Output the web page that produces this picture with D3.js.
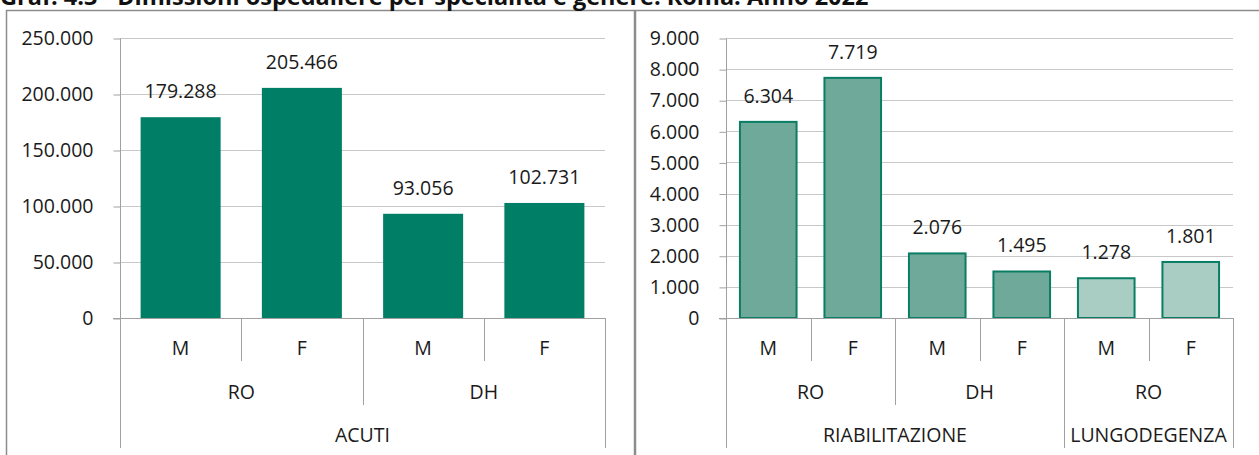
<!DOCTYPE html>
<html>
<head>
<meta charset="utf-8">
<script src="https://cdn.jsdelivr.net/npm/d3@7"></script>
<style>
  body { margin: 0; background: #fff; }
  svg { display: block; font-family: "Open Sans", sans-serif; }
  .lbl { fill: #1a1a1a; font-size: 19.5px; }
</style>
</head>
<body>
<div id="chart"></div>
<script>
// left panel: acuti
var acutiSpec = ["ACUTI", "ACUTI", "ACUTI", "ACUTI"];
var acutiRegime = ["RO", "RO", "DH", "DH"];
var acutiSex = ["M", "F", "M", "F"];
var acutiValues = [179288, 205466, 93056, 102731];
var acutiTicks = [0, 50000, 100000, 150000, 200000, 250000];

// right panel: riabilitazione + lungodegenza
var otherSpec = ["RIABILITAZIONE", "RIABILITAZIONE", "RIABILITAZIONE", "RIABILITAZIONE", "LUNGODEGENZA", "LUNGODEGENZA"];
var otherRegime = ["RO", "RO", "DH", "DH", "RO", "RO"];
var otherSex = ["M", "F", "M", "F", "M", "F"];
var otherValues = [6304, 7719, 2076, 1495, 1278, 1801];
var otherTicks = [0, 1000, 2000, 3000, 4000, 5000, 6000, 7000, 8000, 9000];

var title = "Graf. 4.3 - Dimissioni ospedaliere per specialità e genere. Roma. Anno 2022";

var it = d3.formatLocale({decimal: ",", thousands: ".", grouping: [3], currency: ["€", ""]});
var fmt = it.format(",d");

var W = 1259, H = 455;
var svg = d3.select("#chart").append("svg")
  .attr("width", W).attr("height", H);

// panel frames
svg.append("rect").attr("x", 6.5).attr("y", 10.5).attr("width", 628).attr("height", 460)
  .attr("fill", "none").attr("stroke", "#8c8c8c").attr("stroke-width", 1.5);
svg.append("rect").attr("x", 635.5).attr("y", 10.5).attr("width", 640).attr("height", 460)
  .attr("fill", "none").attr("stroke", "#8c8c8c").attr("stroke-width", 1.5);

// title, cut at the top as in the source
svg.append("text")
  .attr("x", 0).attr("y", 5)
  .attr("font-weight", "bold").attr("font-size", "23.5px").attr("fill", "#111")
  .text(title);

// runs of equal consecutive values -> [{name, start, end}]
var runs = function(arr) {
  var out = [];
  arr.forEach(function(v, i) {
    if (out.length && out[out.length - 1].name === v) {
      out[out.length - 1].end = i;
    } else {
      out.push({name: v, start: i, end: i});
    }
  });
  return out;
};

var drawPanel = function(o) {
  var n = o.values.length;
  var idx = d3.range(n);

  var x = d3.scaleBand().domain(idx).range(o.xr).paddingInner(o.pad).paddingOuter(o.pad / 2);
  var y = d3.scaleLinear().domain([0, o.ticks[o.ticks.length - 1]]).range([318, 38]);
  var step = x.step();
  var g = svg.append("g");

  // gridlines
  g.selectAll("line.grid")
    .data(o.ticks.slice(1))
    .enter().append("line")
    .attr("x1", o.xr[0]).attr("x2", o.xr[1])
    .attr("y1", function(d) { return Math.round(y(d)) + 0.5; })
    .attr("y2", function(d) { return Math.round(y(d)) + 0.5; })
    .attr("stroke", "#c8c8c8").attr("stroke-width", 1);

  // y axis
  var yAxis = d3.axisLeft(y).tickValues(o.ticks).tickFormat(fmt).tickSize(7).tickPadding(20);
  var ya = g.append("g")
    .attr("transform", "translate(" + (o.xr[0] + 0.5) + ",0.5)")
    .call(yAxis);
  ya.select(".domain").attr("stroke", "#a0a0a0").attr("d", "M0," + y(o.ticks[o.ticks.length - 1]) + "V" + y(0));
  ya.selectAll(".tick line").attr("stroke", "#a0a0a0");
  ya.selectAll(".tick text").attr("font-family", "Open Sans").attr("font-size", "19.5px").attr("fill", "#1a1a1a");

  // bars
  g.selectAll("rect.bar")
    .data(idx)
    .enter().append("rect")
    .attr("x", function(i) { return x(i); })
    .attr("width", x.bandwidth())
    .attr("y", function(i) { return y(o.values[i]); })
    .attr("height", function(i) { return y(0) - y(o.values[i]); })
    .attr("fill", function(i) { return o.fill(i); })
    .attr("stroke", o.stroke || "none")
    .attr("stroke-width", o.stroke ? 2 : 0);

  // value labels
  g.selectAll("text.val")
    .data(idx)
    .enter().append("text")
    .attr("class", "lbl")
    .attr("text-anchor", "middle")
    .attr("x", function(i) { return x(i) + x.bandwidth() / 2; })
    .attr("y", function(i) { return y(o.values[i]) - 26; })
    .attr("dy", "0.35em")
    .text(function(i) { return fmt(o.values[i]); });

  // x axis baseline
  g.append("line")
    .attr("x1", o.xr[0] - 7).attr("x2", o.xr[1])
    .attr("y1", y(0) + 0.5).attr("y2", y(0) + 0.5)
    .attr("stroke", "#a0a0a0");

  // multi-level category labels; keys carry the parent so groups never cross
  var levels = [
    {names: o.sex, keys: idx.map(String), ty: 348, ly: 361},
    {names: o.regime, keys: idx.map(function(i) { return o.spec[i] + "|" + o.regime[i]; }), ty: 392, ly: 405},
    {names: o.spec, keys: o.spec, ty: 435, ly: 448}
  ];
  var bottomFor = {};
  levels.forEach(function(lv) {
    runs(lv.keys).forEach(function(r) {
      var x0 = o.xr[0] + r.start * step, x1 = o.xr[0] + (r.end + 1) * step;
      g.append("text")
        .attr("class", "lbl")
        .attr("text-anchor", "middle")
        .attr("x", (x0 + x1) / 2)
        .attr("y", lv.ty)
        .attr("dy", "0.35em")
        .text(lv.names[r.start]);
      [x0, x1].forEach(function(b) {
        var k = Math.round(b);
        bottomFor[k] = Math.max(bottomFor[k] || 0, lv.ly);
      });
    });
  });
  Object.keys(bottomFor).forEach(function(k) {
    g.append("line")
      .attr("x1", +k + 0.5).attr("x2", +k + 0.5)
      .attr("y1", y(0)).attr("y2", bottomFor[k])
      .attr("stroke", "#a0a0a0");
  });
};

drawPanel({
  values: acutiValues, sex: acutiSex, regime: acutiRegime, spec: acutiSpec,
  ticks: acutiTicks, xr: [120, 605], pad: 0.34,
  fill: function() { return "#007f66"; }
});

drawPanel({
  values: otherValues, sex: otherSex, regime: otherRegime, spec: otherSpec,
  ticks: otherTicks, xr: [726, 1233], pad: 0.33,
  fill: function(i) { return otherSpec[i] === "LUNGODEGENZA" ? "#a9cdc3" : "#6ea999"; },
  stroke: "#0a7d64"
});
</script>
</body>
</html>
